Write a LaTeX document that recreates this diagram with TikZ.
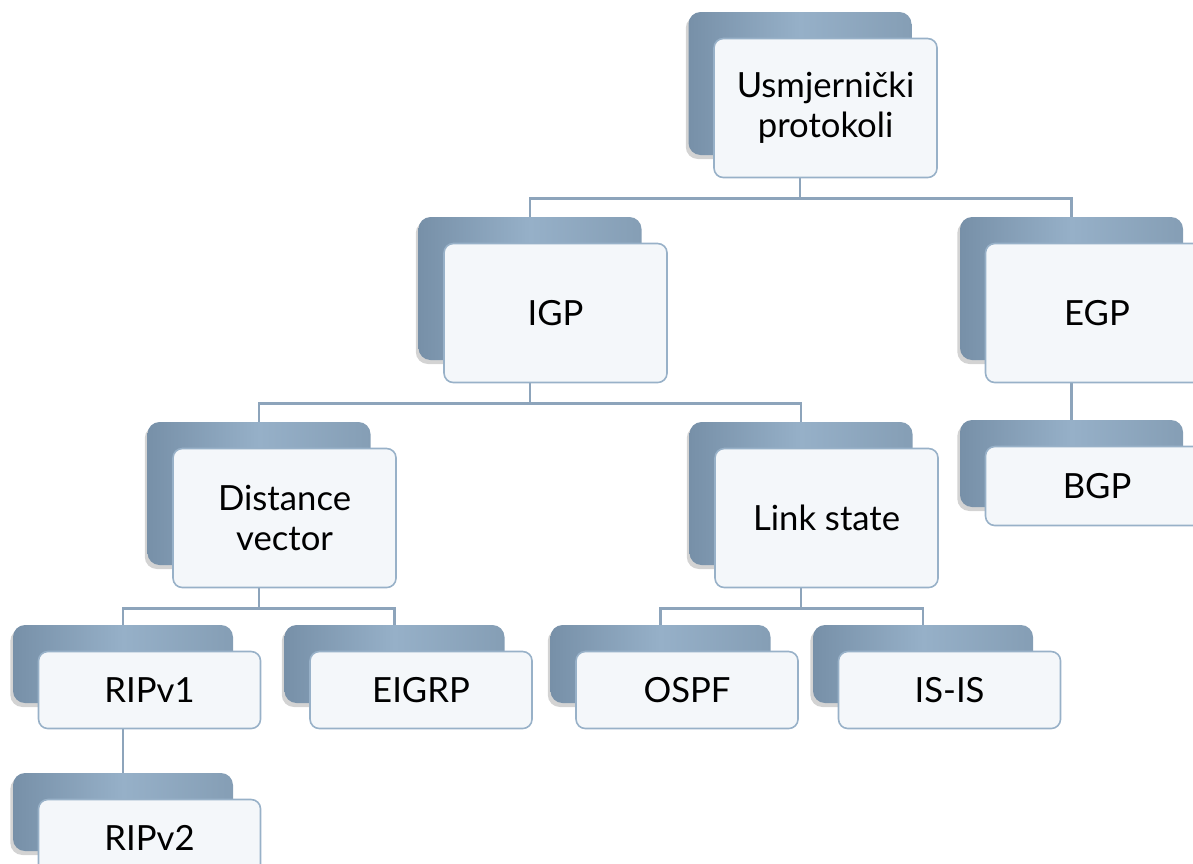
\documentclass[tikz,border=0pt]{standalone}
\usepackage{fontspec}
\setmainfont{Lato}
\usetikzlibrary{positioning, shadows, backgrounds}

\definecolor{slateL}{HTML}{7790A8}
\definecolor{slateM}{HTML}{96B0C8}
\definecolor{slateR}{HTML}{859EB5}
\definecolor{paleFill}{HTML}{F4F7FA}
\definecolor{paleLine}{HTML}{98B1C8}
\definecolor{linkBlue}{HTML}{8DA4BB}

\begin{document}
\begin{tikzpicture}[x=0.75pt, y=-0.75pt,
    back/.style={rounded corners=9pt, left color=slateL, right color=slateR, middle color=slateM,
        drop shadow={shadow xshift=-2pt, shadow yshift=-3pt, opacity=0.35}},
    front/.style={draw=paleLine, line width=1.2pt, rounded corners=7pt, fill=paleFill,
        anchor=north west, align=center, font=\fontsize{26}{30}\selectfont},
    big back/.style={back, minimum width=167.25pt, minimum height=107.25pt},
    big front/.style={front, minimum width=167.25pt, minimum height=104.25pt},
    mid back/.style={back, minimum width=167.25pt, minimum height=65.25pt},
    mid front/.style={front, minimum width=167.25pt, minimum height=59.25pt},
    small back/.style={back, minimum width=165pt, minimum height=58.5pt},
    small front/.style={front, minimum width=166.5pt, minimum height=57.75pt},
    link/.style={draw=linkBlue, line width=2pt}]

    \useasboundingbox (0,0) rectangle (1193,864);
    \clip (0,0) rectangle (1193,864);

    % boxes: back card + front card
    \foreach \nm/\cx/\cy/\sz/\txt in {
        top/800/83.5/big/{Usmjernički\\protokoli},
        igp/530/288.5/big/IGP,
        egp/1071.5/288.5/big/EGP,
        dv/259/493.5/big/{Distance\\vector},
        ls/801/493.5/big/{Link state},
        bgp/1071.5/463.5/mid/BGP,
        ripa/123/664/small/RIPv1,
        eigrp/394.5/664/small/EIGRP,
        ospf/660.5/664/small/OSPF,
        isis/923/664/small/IS-IS,
        ripb/123/812/small/RIPv2} {
        \node[\sz\space back] (b\nm) at (\cx,\cy) {};
        \node[\sz\space front] (f\nm) at ([shift={(25,26)}]b\nm.north west) {\txt};
    }

    % connectors
    \begin{scope}[on background layer]
        \foreach \p/\c in {top/igp, top/egp, igp/dv, igp/ls, egp/bgp,
                           dv/ripa, dv/eigrp, ls/ospf, ls/isis, ripa/ripb}
            \draw[link] (b\p.south) -- ++(0,43) -| (b\c.north);
    \end{scope}
\end{tikzpicture}
\end{document}
